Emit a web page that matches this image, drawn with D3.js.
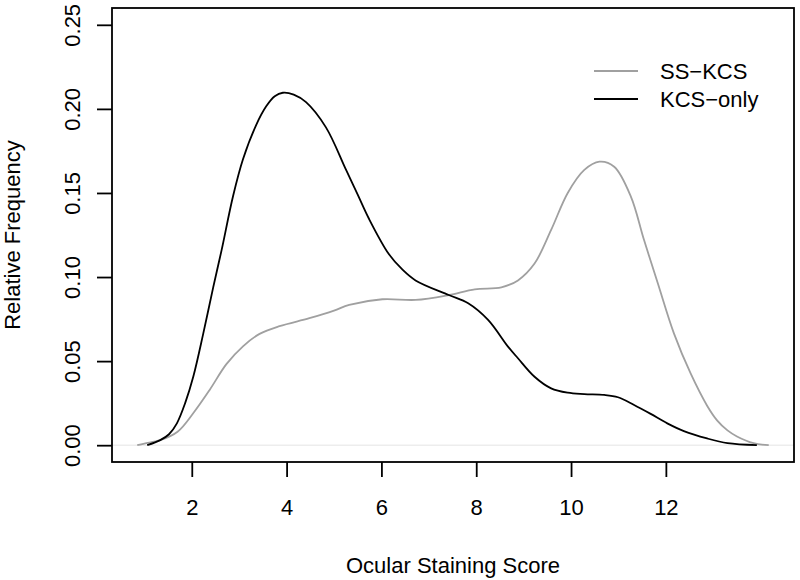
<!DOCTYPE html>
<html><head><meta charset="utf-8">
<script src="https://cdn.jsdelivr.net/npm/d3@7"></script>
<style>body{margin:0;background:#fff}svg{display:block}text{font-family:"Liberation Sans",Arial,sans-serif;fill:#000}</style>
</head><body>
<script>
// Series: x positions (Ocular Staining Score) and relative frequency values
const ssKcsX = [0.85,1.0,1.335,1.7,2.03,2.38,2.73,3.08,3.43,3.85,4.48,5.0,5.32,6.02,6.72,7.42,7.97,8.53,8.88,9.23,9.58,9.93,10.28,10.60,10.91,11.26,11.54,11.83,12.17,12.52,12.87,13.08,13.3,13.5,13.85,14.17];
const ssKcsY = [0,0.001,0.003,0.008,0.019,0.033,0.0482,0.0588,0.0662,0.0708,0.0755,0.080,0.0834,0.0868,0.0864,0.0893,0.0927,0.0939,0.098,0.108,0.128,0.150,0.1637,0.1686,0.1656,0.148,0.122,0.0963,0.0665,0.0428,0.0235,0.0148,0.0088,0.0052,0.0012,0];
const kcsOnlyX = [1.06,1.335,1.52,1.686,1.86,2.034,2.243,2.453,2.629,2.87,3.08,3.36,3.57,3.75,3.92,4.15,4.41,4.83,5.25,5.5,5.74,6.16,6.44,6.72,7.42,7.83,8.25,8.67,8.88,9.23,9.58,9.93,10.28,10.70,10.99,11.33,11.68,12.03,12.38,12.87,13.3,13.92];
const kcsOnlyY = [0,0.003,0.0065,0.013,0.025,0.041,0.0665,0.094,0.116,0.148,0.170,0.1905,0.2015,0.2075,0.2096,0.2085,0.2040,0.1890,0.164,0.149,0.1345,0.1135,0.1045,0.098,0.0893,0.0844,0.0745,0.0586,0.0517,0.0407,0.0338,0.0312,0.0304,0.0299,0.0285,0.0239,0.0186,0.013,0.0084,0.004,0.0012,0];
const xTicks = [2,4,6,8,10,12];
const yTicks = [0,0.05,0.10,0.15,0.20,0.25];
const yTickLabels = ["0.00","0.05","0.10","0.15","0.20","0.25"];
const seriesNames = ["SS\u2212KCS","KCS\u2212only"];
const seriesColors = ["#a0a0a0","#000000"];
const xTitle = "Ocular Staining Score";
const yTitle = "Relative Frequency";

const W = 800, H = 580;
const L = 112, R = 794, T = 8, B = 462;
const svg = d3.select("body").append("svg").attr("width", W).attr("height", H);

const xr = [0.85, 14.17], xp = (xr[1]-xr[0])*0.04;
const x = d3.scaleLinear().domain([xr[0]-xp, xr[1]+xp]).range([L, R]);
const yr = [0, 0.25], yp = (yr[1]-yr[0])*0.04;
const y = d3.scaleLinear().domain([yr[0]-yp, yr[1]+yp]).range([B, T]);

// zero line
svg.append("line").attr("x1", L).attr("x2", R).attr("y1", y(0)).attr("y2", y(0))
  .attr("stroke", "#e4e4e4").attr("stroke-width", 1);

const line = d3.line().x(d => x(d[0])).y(d => y(Math.max(0, d[1]))).curve(d3.curveCatmullRom.alpha(0.5));
const series = [d3.zip(ssKcsX, ssKcsY), d3.zip(kcsOnlyX, kcsOnlyY)];
series.forEach((s, i) => {
  svg.append("path").datum(s).attr("d", line).attr("fill", "none")
    .attr("stroke", seriesColors[i]).attr("stroke-width", 1.8);
});

// box
svg.append("rect").attr("x", L).attr("y", T).attr("width", R-L).attr("height", B-T)
  .attr("fill", "none").attr("stroke", "#000").attr("stroke-width", 1.8);

// x axis
const xa = svg.append("g").attr("transform", `translate(0,${B})`)
  .call(d3.axisBottom(x).tickValues(xTicks).tickSize(15).tickPadding(22).tickFormat(d3.format("d")));
xa.select(".domain").remove();
xa.selectAll("line").attr("stroke", "#000").attr("stroke-width", 1.8);
xa.selectAll("text").attr("font-size", 22).attr("font-family", "Liberation Sans, Arial, sans-serif");

// y axis
const ya = svg.append("g").attr("transform", `translate(${L},0)`)
  .call(d3.axisLeft(y).tickValues(yTicks).tickSize(15).tickFormat((d, i) => yTickLabels[i]));
ya.select(".domain").remove();
ya.selectAll("line").attr("stroke", "#000").attr("stroke-width", 1.8);
ya.selectAll("text").attr("font-size", 22).attr("font-family", "Liberation Sans, Arial, sans-serif")
  .attr("x", null).attr("dy", null).attr("text-anchor", "middle")
  .attr("transform", "translate(-32,0) rotate(-90)");

// titles
svg.append("text").attr("x", (L+R)/2).attr("y", 573).attr("text-anchor", "middle")
  .attr("font-size", 22).text(xTitle);
svg.append("text").attr("transform", `translate(20,${(T+B)/2}) rotate(-90)`).attr("text-anchor", "middle")
  .attr("font-size", 22).text(yTitle);

// legend
const lg = svg.append("g");
seriesNames.forEach((n, i) => {
  const yy = 71 + i*28;
  lg.append("line").attr("x1", 594).attr("x2", 638).attr("y1", yy).attr("y2", yy)
    .attr("stroke", seriesColors[i]).attr("stroke-width", 1.8);
  lg.append("text").attr("x", 660).attr("y", yy + 8).attr("font-size", 22).text(n);
});
</script>
</body></html>
